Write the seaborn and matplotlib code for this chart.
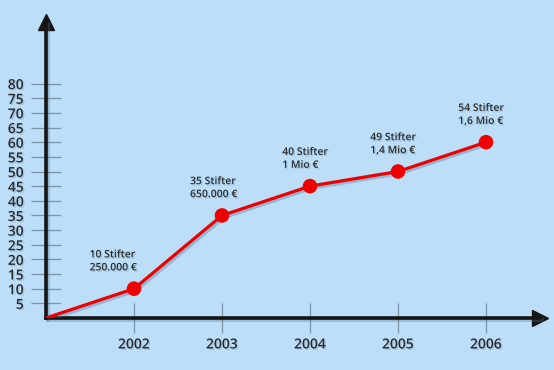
import matplotlib
matplotlib.use("Agg")
import matplotlib.pyplot as plt
import matplotlib.patheffects as pe
import seaborn as sns
import pandas as pd

# data
years = [2001, 2002, 2003, 2004, 2005, 2006]
stifter_axis = [0, 10, 35, 45, 50, 60]
point_labels = ["10 Stifter\n250.000 €", "35 Stifter\n650.000 €", "40 Stifter\n1 Mio €",
                "49 Stifter\n1,4 Mio €", "54 Stifter\n1,6 Mio €"]
y_ticks = [5, 10, 15, 20, 25, 30, 35, 40, 45, 50, 55, 60, 65, 70, 75, 80]
x_ticks = [2002, 2003, 2004, 2005, 2006]

df = pd.DataFrame({"Jahr": years, "Wert": stifter_axis})

bg = "#bcdef8"
sns.set_style("white")
plt.rcParams["font.family"] = ["Open Sans", "DejaVu Sans"]

fig = plt.figure(figsize=(5.54, 3.70), dpi=100, facecolor=bg)
W, H = 554, 370
ax = fig.add_axes([46 / W, (H - 318) / H, (540 - 46) / W, (318 - 22) / H])
ax.set_facecolor(bg)

shadow_line = [pe.SimpleLineShadow(offset=(1.5, -1.5), shadow_color="#4a6f90", alpha=0.35), pe.Normal()]
shadow_text = [pe.SimplePatchShadow(offset=(1, -1), shadow_rgbFace="#6d93b5", alpha=0.35), pe.Normal()]

sns.lineplot(data=df, x="Jahr", y="Wert", color="#ee0000", linewidth=2.3, ax=ax,
             path_effects=shadow_line, zorder=4)
sns.scatterplot(data=df.iloc[1:], x="Jahr", y="Wert", color="#ee0000", s=110, edgecolor="none",
                ax=ax, zorder=5)

ax.set_xlim(2001, 2001 + (540 - 46) / 88)
ax.set_ylim(0, (318 - 22) / 2.93)
ax.set_xlabel("")
ax.set_ylabel("")

ax.set_yticks(y_ticks)
ax.set_xticks(x_ticks)
ax.tick_params(axis="y", left=True, direction="inout", length=22, width=0.9, color="#7d93a6",
               labelsize=10, labelcolor="#2b2b2b", pad=5)
ax.tick_params(axis="x", bottom=True, direction="inout", length=22, width=0.9, color="#7d93a6",
               labelsize=10, labelcolor="#2b2b2b", pad=3)
for lab in ax.get_xticklabels() + ax.get_yticklabels():
    lab.set_path_effects(shadow_text)
    lab.set_fontweight("semibold")

for s in ["top", "right"]:
    ax.spines[s].set_visible(False)
for s in ["left", "bottom"]:
    ax.spines[s].set_linewidth(2.6)
    ax.spines[s].set_color("#151515")
    ax.spines[s].set_zorder(3)
    ax.spines[s].set_path_effects(shadow_line)

# arrow heads
ax.plot(1, 0, ">", color="#151515", markersize=11, transform=ax.transAxes, clip_on=False, zorder=3)
ax.plot(0, 1, "^", color="#151515", markersize=11, transform=ax.transAxes, clip_on=False, zorder=3)

offsets = [(-32, 11), (-23, 11), (-20, 11), (-20, 11), (-20, 11)]
for yr, val, txt, off in zip(years[1:], stifter_axis[1:], point_labels, offsets):
    ax.annotate(txt, (yr, val), xytext=off, textcoords="offset points", ha="left", va="bottom",
                fontsize=7.5, fontweight="semibold", color="#2b2b2b", linespacing=1.25,
                path_effects=shadow_text)

fig.savefig("out.png", dpi=100, facecolor=bg)
